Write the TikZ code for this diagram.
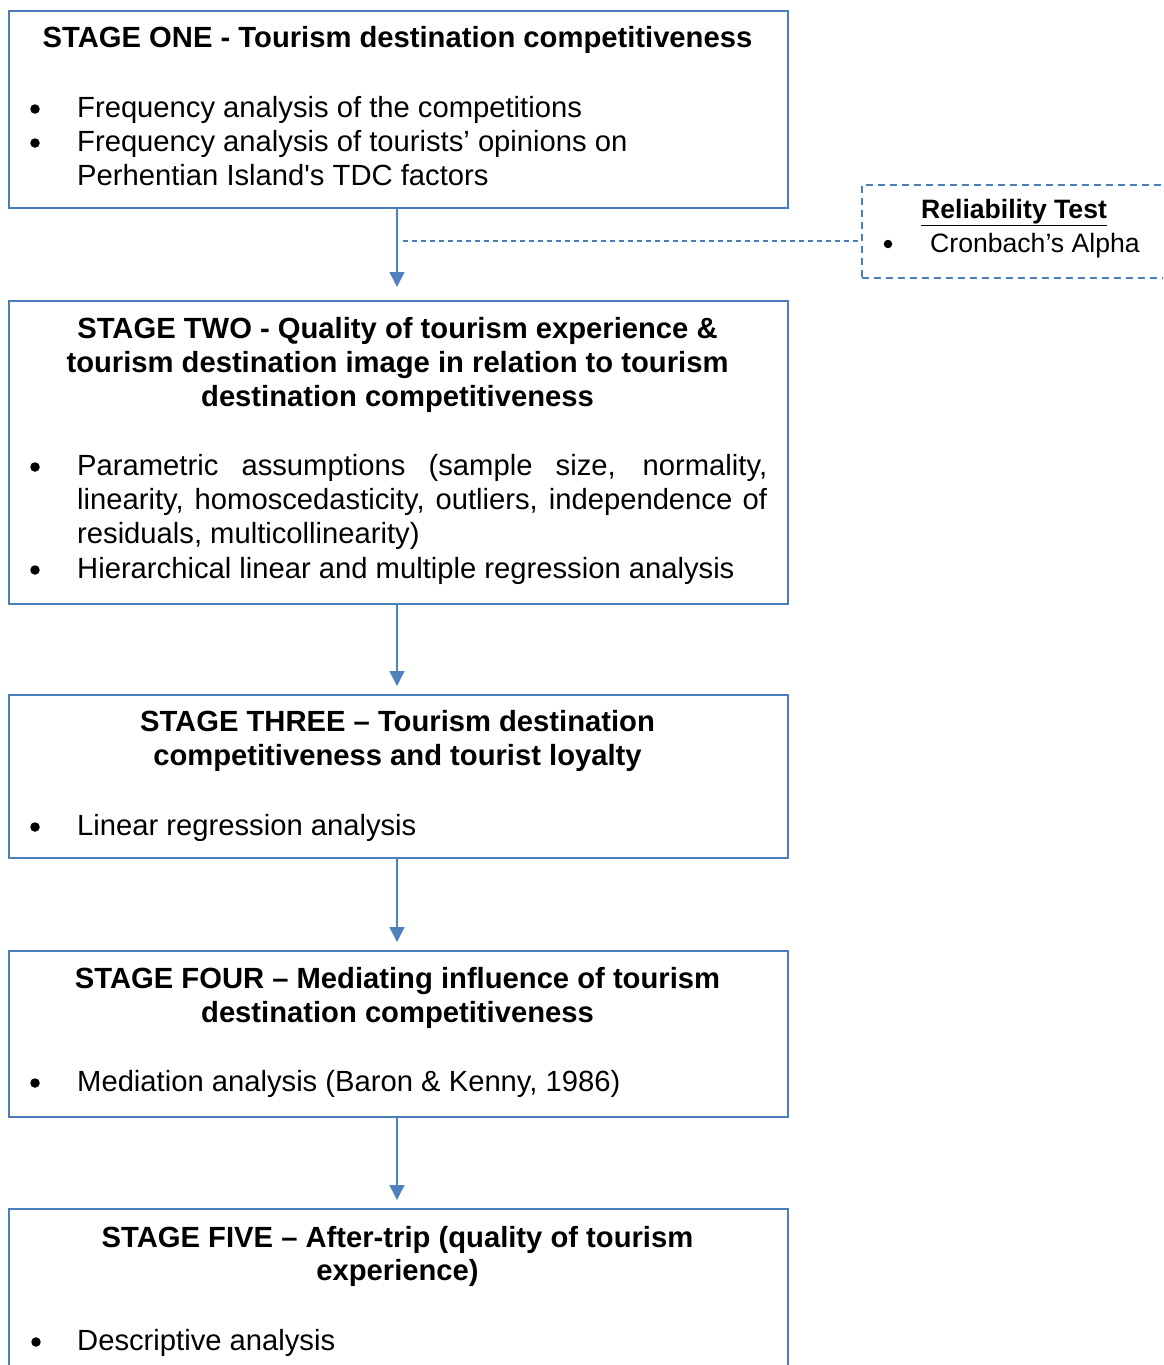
\documentclass[tikz,border=0pt]{standalone}
\usepackage{fontspec}
\setmainfont{Liberation Sans}[Ligatures=TeXOff]
\usetikzlibrary{arrows.meta}
\definecolor{edgeblue}{HTML}{4A7EBB}
\definecolor{tipblue}{HTML}{4F81BD}
\begin{document}
\begin{tikzpicture}[x=1pt,y=-1pt,
  stagebox/.style={draw=edgeblue, line width=2pt, inner sep=0pt, minimum width=779pt},
  relbox/.style={draw=edgeblue, line width=2pt, dash pattern=on 7pt off 5pt, inner sep=0pt},
  flow/.style={draw=tipblue, line width=1.5pt, shorten >=8pt,
    -{Triangle[length=15pt,width=15pt]}, fill=tipblue},
  relline/.style={draw=edgeblue, line width=1.3pt, dash pattern=on 5pt off 4pt},
  headtxt/.style={font=\fontsize{29.2pt}{34pt}\selectfont\bfseries, inner sep=0pt, anchor=base},
  bodytxt/.style={font=\fontsize{29.2pt}{34pt}\selectfont, inner sep=0pt, anchor=base west},
  smallhead/.style={font=\fontsize{26.6pt}{32pt}\selectfont\bfseries, inner sep=0pt, anchor=base},
  smallbody/.style={font=\fontsize{26.6pt}{32pt}\selectfont, inner sep=0pt, anchor=base west},
  bul/.style={circle, fill=black, inner sep=0pt, minimum size=9.5pt},
  sbul/.style={circle, fill=black, inner sep=0pt, minimum size=8.5pt}]

\useasboundingbox (0,0) rectangle (1163,1365);
\clip (0,0) rectangle (1163,1365);

% stage frames
\node[stagebox, minimum height=197pt] (b1) at (398.5,109.5) {};
\node[stagebox, minimum height=303pt] (b2) at (398.5,452.5) {};
\node[stagebox, minimum height=163pt] (b3) at (398.5,776.5) {};
\node[stagebox, minimum height=166pt] (b4) at (398.5,1034) {};
\node[stagebox, minimum height=171pt] (b5) at (398.5,1294.5) {};

% reliability test frame
\node[relbox, minimum width=313pt, minimum height=93pt] (rel) at (1018.5,231.5) {};

% flow between stages
\draw[flow, shorten >=13pt] ([xshift=-1.5pt]b1.south) -- ([xshift=-1.5pt]b2.north);
\draw[flow] ([xshift=-1.5pt]b2.south) -- ([xshift=-1.5pt]b3.north);
\draw[flow] ([xshift=-1.5pt]b3.south) -- ([xshift=-1.5pt]b4.north);
\draw[flow] ([xshift=-1.5pt]b4.south) -- ([xshift=-1.5pt]b5.north);

% side link to the reliability test
\coordinate (tap) at (403,241);
\draw[relline] (tap) -- (tap -| rel.west);

% stage one
\node[headtxt] (h1) at (397.5,47) {STAGE ONE - Tourism destination competitiveness};
\node[bul] (d1a) at (35,109) {};
\node[bodytxt] (t1a) at (77,117) {Frequency analysis of the competitions};
\node[bul] (d1b) at (35,143) {};
\node[bodytxt] (t1b) at (77,151) {Frequency analysis of tourists’ opinions on};
\node[bodytxt] (t1c) at (77,185) {Perhentian Island's TDC factors};

% stage two
\node[headtxt] (h2a) at (397.5,338) {STAGE TWO - Quality of tourism experience \&};
\node[headtxt] (h2b) at (397.5,372) {tourism destination image in relation to tourism};
\node[headtxt] (h2c) at (397.5,406) {destination competitiveness};
\node[bul] (d2a) at (35,467) {};
\node[bodytxt] (t2a) at (77,475) {\makebox[690pt][s]{Parametric assumptions (sample size, normality,}};
\node[bodytxt] (t2b) at (77,509) {\makebox[690pt][s]{linearity, homoscedasticity, outliers, independence of}};
\node[bodytxt] (t2c) at (77,543) {residuals, multicollinearity)};
\node[bul] (d2b) at (35,570) {};
\node[bodytxt] (t2d) at (77,578) {Hierarchical linear and multiple regression analysis};

% stage three
\node[headtxt] (h3a) at (397.5,731) {STAGE THREE – Tourism destination};
\node[headtxt] (h3b) at (397.5,765) {competitiveness and tourist loyalty};
\node[bul] (d3a) at (35,827) {};
\node[bodytxt] (t3a) at (77,835) {Linear regression analysis};

% stage four
\node[headtxt] (h4a) at (397.5,988) {STAGE FOUR – Mediating influence of tourism};
\node[headtxt] (h4b) at (397.5,1022) {destination competitiveness};
\node[bul] (d4a) at (35,1083) {};
\node[bodytxt] (t4a) at (77,1091) {Mediation analysis (Baron \& Kenny, 1986)};

% stage five
\node[headtxt] (h5a) at (397.5,1247) {STAGE FIVE – After-trip (quality of tourism};
\node[headtxt] (h5b) at (397.5,1280) {experience)};
\node[bul] (d5a) at (36,1342) {};
\node[bodytxt] (t5a) at (77,1350) {Descriptive analysis};

% reliability test
\node[smallhead] (rh) at (1014,218) {\underline{Reliability Test}};
\node[sbul] (rd) at (888,244) {};
\node[smallbody] (rt) at (930,252) {Cronbach’s Alpha};

\end{tikzpicture}
\end{document}
